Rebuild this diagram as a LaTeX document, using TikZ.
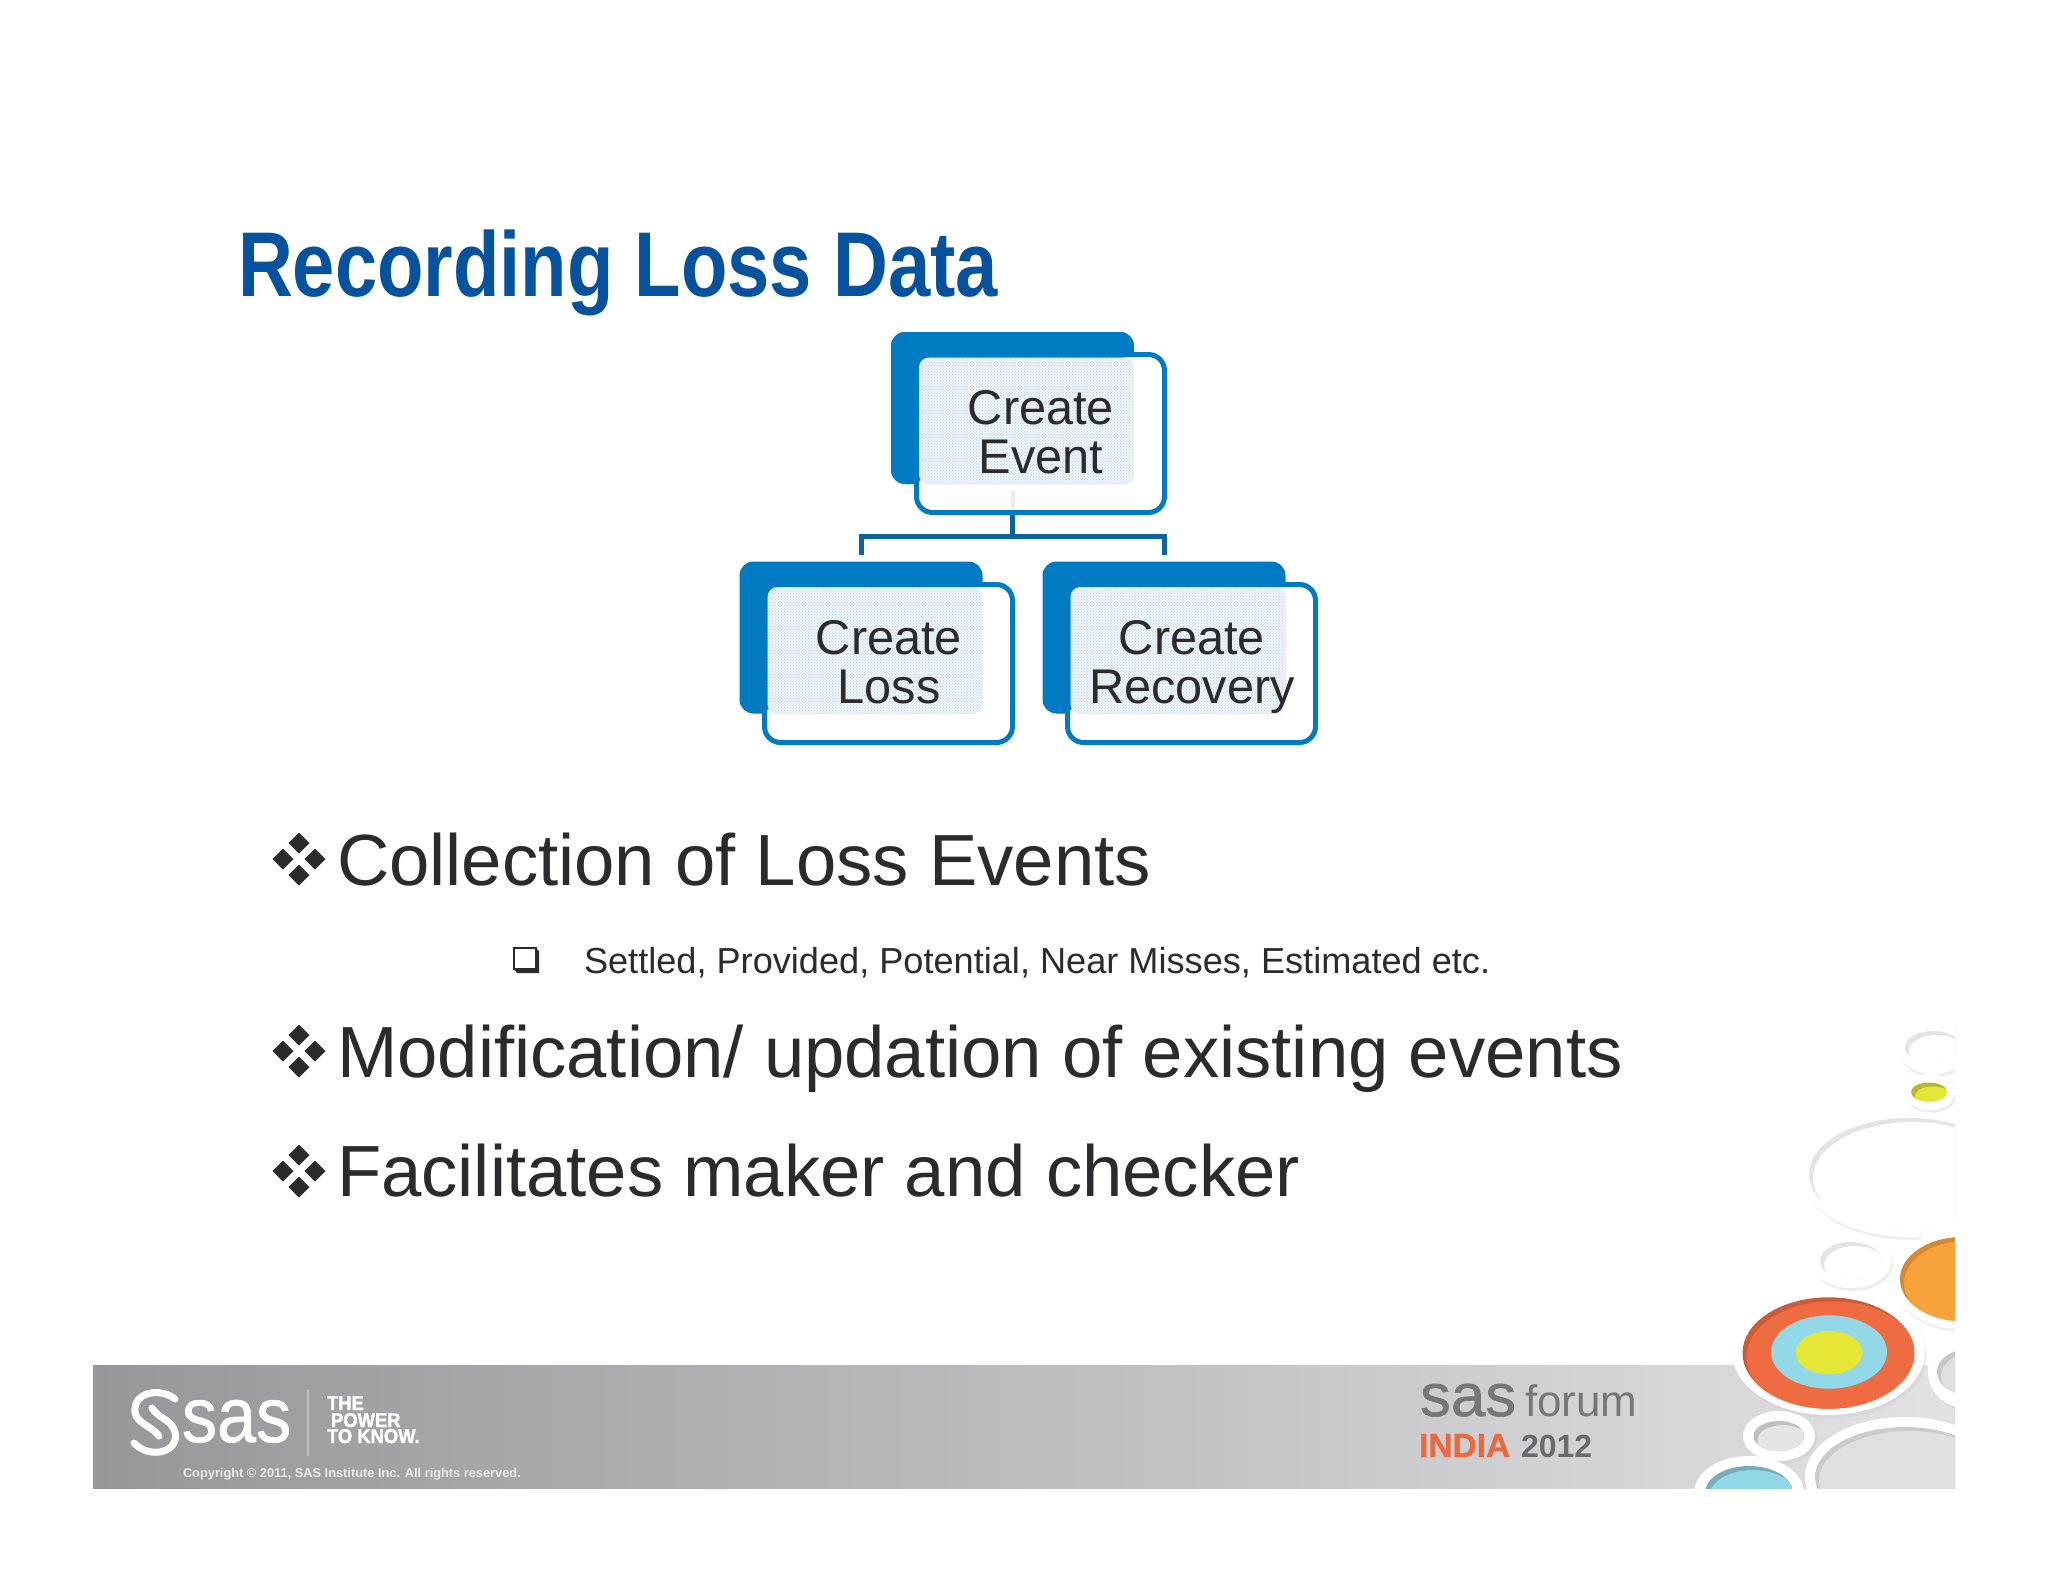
\documentclass[tikz,border=0pt]{standalone}
\usepackage{fontspec}
\usepackage{graphicx}
\usetikzlibrary{patterns}
\setmainfont{Liberation Sans}
\definecolor{sasblue}{HTML}{007AC2}
\definecolor{lineblue}{HTML}{0A649F}
\definecolor{patt}{HTML}{EDF3F8}
\definecolor{pattdot}{HTML}{C4D8E8}
\definecolor{titleblue}{HTML}{07529C}
\definecolor{ink}{HTML}{2B2A2C}
\definecolor{ringshadow}{HTML}{E4E4E6}
\definecolor{forumgrey}{HTML}{76777B}
\definecolor{indiaorange}{HTML}{EA693F}
\definecolor{cyellow}{HTML}{E6E637}
\definecolor{corange}{HTML}{F8A23C}
\definecolor{ccyan}{HTML}{93D8E6}
\definecolor{cred}{HTML}{EF6C42}
\definecolor{bandl}{HTML}{97979B}
\definecolor{bandm}{HTML}{B6B6BB}
\definecolor{bandr}{HTML}{E2E2E5}
\newcommand{\fs}[1]{\fontsize{#1}{#1}\selectfont}
% hole cx cy rx ry fill shadow
\newcommand{\holeE}[6]{%
  \begin{scope}
    \clip (#1,#2) ellipse [x radius=#3, y radius=#4];
    \fill[#6] (#1,#2) ellipse [x radius=#3, y radius=#4];
    \fill[#5] (#1+4,#2+4) ellipse [x radius=#3, y radius=#4];
  \end{scope}}
% ring cx cy rx ry
\newcommand{\ringE}[4]{%
  \fill[black!22,opacity=.3] (#1+2,#2+3) ellipse [x radius=#3, y radius=#4];
  \fill[white] (#1,#2) ellipse [x radius=#3, y radius=#4];}
\newcommand{\diamondbullet}[2]{%
  \foreach \dx/\dy in {0/-16,0/16,-16/0,16/0}
    \fill[ink] (#1+\dx-10.5,#2+\dy) -- (#1+\dx,#2+\dy-10.5) -- (#1+\dx+10.5,#2+\dy) -- (#1+\dx,#2+\dy+10.5) -- cycle;}
\tikzset{
  x=1pt,y=-1pt,
  txt/.style={inner sep=0pt,outer sep=0pt,anchor=base west,text=ink},
  backbox/.style={fill=sasblue,rounded corners=14pt,inner sep=0pt,minimum width=243pt,minimum height=152pt},
  frontbox/.style={draw=sasblue,fill=white,line width=5pt,rounded corners=16pt,inner sep=0pt,minimum width=248pt,minimum height=158pt},
  pattbox/.style={fill=patt,postaction={pattern=crosshatch dots,pattern color=pattdot},rounded corners=10pt,inner sep=0pt,minimum width=215pt,minimum height=127pt},
  boxtext/.style={inner sep=0pt,align=center,text=ink,font=\fontsize{48.7}{51}\selectfont},
  tree/.style={draw=lineblue,line width=5pt},
}
\begin{document}
\begin{tikzpicture}
\useasboundingbox (0,0) rectangle (2048,1582);
\fill[white] (0,0) rectangle (2048,1582);

\node[txt,text=titleblue] (title) at (238,296) {\scalebox{.826}[1]{\bfseries\fs{92}Recording Loss Data}};

% tree: anchors for the connectors, under the boxes
\node[backbox] (evb) at (1012.5,408) {};
\node[backbox] (lob) at (861,637.5) {};
\node[backbox] (reb) at (1164,637.5) {};
\coordinate (bus) at (1012.5,536);
\draw[tree] (evb.south) -- (bus);
\draw[tree,shorten >=6pt] (bus) -| (lob.north);
\draw[tree,shorten >=6pt] (bus) -| (reb.north);

% front boxes
\node[frontbox] (evf) at (1040.5,433.5) {};
\fill[sasblue,rounded corners=14pt] (1134,358) -- (1134,332) -- (891,332) -- (891,484) -- (925,484) -- (925,358) -- cycle;
\node[pattbox] (evp) at (1026.5,421) {};
\fill[patt!80!pattdot] (1010.5,490) rectangle (1014.5,508);

\node[frontbox] (lof) at (888.5,663.5) {};
\fill[sasblue,rounded corners=14pt] (982,587) -- (982,562) -- (740,562) -- (740,713) -- (773,713) -- (773,587) -- cycle;
\node[pattbox] (lop) at (875,650.5) {};

\node[frontbox] (ref) at (1191.5,663.5) {};
\fill[sasblue,rounded corners=14pt] (1285,587) -- (1285,562) -- (1043,562) -- (1043,713) -- (1076,713) -- (1076,587) -- cycle;
\node[pattbox] (rep) at (1178,650.5) {};

\node[txt,anchor=base,boxtext] (evt) at (1041,424) {Create};
\node[txt,anchor=base,boxtext] (evt2) at (1041,473.5) {Event};
\node[txt,anchor=base,boxtext] (lot) at (889,654) {Create};
\node[txt,anchor=base,boxtext] (lot2) at (889,703.5) {Loss};
\node[txt,anchor=base,boxtext] (ret) at (1192,654) {Create};
\node[txt,anchor=base,boxtext] (ret2) at (1192,703.5) {Recovery};

% body
\diamondbullet{299}{859}
\node[txt] (b1) at (337,885) {\fs{72.5}Collection of Loss Events};
\draw[ink,line width=2pt,fill=white] (514,948) rectangle (536,969);
\fill[ink] (514,969) -- (536,969) -- (536,948) -- (539,951) -- (539,973) -- (517,973) -- cycle;
\node[txt] (s1) at (584,973.5) {\fs{36.15}Settled, Provided, Potential, Near Misses, Estimated etc.};
\diamondbullet{299}{1051}
\node[txt] (b2) at (337,1077) {\fs{72.5}Modification/ updation of existing events};
\diamondbullet{299}{1171}
\node[txt] (b3) at (337,1196) {\fs{72.5}Facilitates maker and checker};

% footer band
\shade[left color=bandl,middle color=bandm,right color=bandr] (93,1365) rectangle (1955,1488);

% circles
\begin{scope}
\clip (1650,1000) rectangle (1955,1488);
\ringE{1933}{1047}{36}{27}
\holeE{1933}{1047}{28}{16}{white}{ringshadow}
\ringE{1929}{1092}{26}{18}
\holeE{1929}{1092}{18}{9.5}{cyellow}{cyellow!80!black}
\ringE{1909}{1174}{108}{63}
\holeE{1909}{1174}{100}{56}{white}{ringshadow}
\ringE{1851}{1261}{40}{27}
\holeE{1851}{1261}{31}{19}{white}{ringshadow}
\ringE{1962}{1279}{70}{50}
\holeE{1962}{1279}{62}{42}{corange}{corange!85!black}
\ringE{1965}{1372}{37}{36}
\holeE{1965}{1372}{28}{22}{black!12}{black!22}
\ringE{1905}{1477}{100}{60}
\holeE{1905}{1477}{90}{50}{black!12}{black!20}
\ringE{1779}{1436}{36}{25}
\holeE{1779}{1436}{25.5}{15}{black!10}{black!25}
\ringE{1749}{1493}{55}{37}
\holeE{1749}{1493}{44}{27}{ccyan}{ccyan!80!black}
\ringE{1828.5}{1353}{96}{62}
\holeE{1828.5}{1353}{86}{55.7}{cred}{cred!85!black}
\fill[ccyan] (1829,1352) ellipse [x radius=58, y radius=36.7];
\fill[cyellow] (1829,1352.5) ellipse [x radius=33.5, y radius=21.7];
\end{scope}

% sas logo
\draw[white,line width=7pt,line cap=round] (175,1399) .. controls (160,1387) and (133,1392) .. (135,1412) .. controls (137,1424) and (152,1426) .. (159,1436);
\draw[white,line width=7pt,line cap=round] (134,1443) .. controls (150,1460) and (180,1452) .. (175,1432) .. controls (172,1420) and (158,1418) .. (152,1408);
\node[txt,text=white] (sas) at (182,1442) {\scalebox{.9}[1]{\fs{78}\addfontfeature{FakeBold=1}sas}};
\draw[white!75!black,line width=1.5pt] (308,1390) -- (308,1456);
\node[txt,text=white] (tp1) at (327,1410) {\scalebox{.92}[1]{\bfseries\fs{20}\addfontfeature{FakeBold=2}THE}};
\node[txt,text=white] (tp2) at (331,1427) {\scalebox{.92}[1]{\bfseries\fs{20}\addfontfeature{FakeBold=2}POWER}};
\node[txt,text=white] (tp3) at (327,1443) {\scalebox{.92}[1]{\bfseries\fs{20}\addfontfeature{FakeBold=2}TO KNOW.}};
\node[txt,text=white!92!black] (copy) at (183,1477) {\bfseries\fs{12.8}Copyright © 2011, SAS Institute Inc. All rights reserved.};
\node[txt,text=forumgrey] (fsas) at (1420,1416) {\scalebox{1.03}[1]{\fs{60}\addfontfeature{FakeBold=1}sas}};
\node[txt,text=forumgrey] (forum) at (1525,1416) {\fs{44}forum};
\node[txt,text=indiaorange] (india) at (1419,1457) {\bfseries\fs{33.5}\addfontfeature{FakeBold=1}INDIA};
\node[txt,text=forumgrey!90!black] (yr) at (1521,1457) {\bfseries\fs{32}2012};
\end{tikzpicture}
\end{document}
